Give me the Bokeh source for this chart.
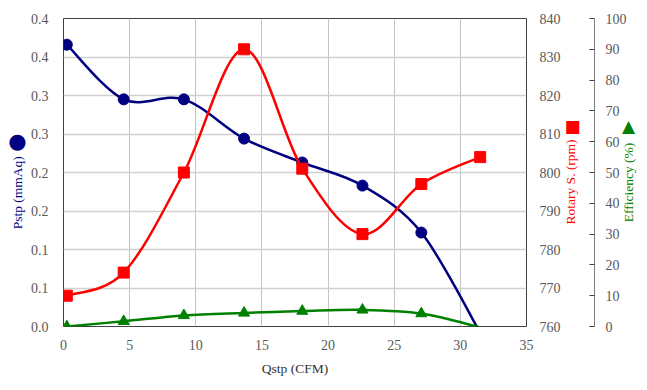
from bokeh.plotting import figure
from bokeh.layouts import row
from bokeh.models import LinearAxis, Range1d, FixedTicker, Label
from bokeh.embed import file_html
from bokeh.resources import INLINE

# ---------------- data ----------------
qstp = [0.25, 4.55, 9.1, 13.65, 18.05, 22.6, 27.05, 31.5]
pstp = [0.366, 0.295, 0.295, 0.244, 0.213, 0.183, 0.122, -0.008]
rpm = [768, 774, 800, 832, 801, 784, 797, 804]
eff = [0.0, 1.7, 3.6, 4.4, 5.0, 5.4, 4.2, -0.3]

x_ticks = [0, 5, 10, 15, 20, 25, 30, 35]
y_ticks = [0.0, 0.05, 0.1, 0.15, 0.2, 0.25, 0.3, 0.35, 0.4]
y_tick_labels = ["0.0", "0.1", "0.1", "0.2", "0.2", "0.3", "0.3", "0.4", "0.4"]
rpm_ticks = [760, 770, 780, 790, 800, 810, 820, 830, 840]
eff_ticks = [0, 10, 20, 30, 40, 50, 60, 70, 80, 90, 100]

x_title = "Qstp (CFM)"
pstp_title = "Pstp (mmAq)"
rpm_title = "Rotary S. (rpm)"
eff_title = "Efficiency (%)"

# ---------------- layout ----------------
H = 381
FL, FT, FW, FH = 63, 18, 463, 308
RB = 106                          # right border of the main figure (holds both right axes)
W = FL + FW + RB                  # main figure width
WS = 30                           # transparent strip laid over the right edge
OVERLAP = 17                      # how far the strip slides back over the main figure
ORIGIN = 1                        # page offset of the layout as seen in the picture
IMG_FB = 327                      # frame bottom as seen in the picture

FONT = "Liberation Serif"
SYM_FONT = "DejaVu Sans"
BLUE, RED, GREEN = "#000080", "#ff0000", "#008000"
TICK_COLOR = "#595959"
NB = "\u00a0"

p = figure(width=W, height=H, x_range=Range1d(0, 35), y_range=Range1d(0, 0.4),
           output_backend="svg", toolbar_location=None,
           min_border_left=FL, min_border_top=FT,
           min_border_right=RB, min_border_bottom=H - FT - FH)
p.extra_y_ranges = {"rpm": Range1d(760, 840), "eff": Range1d(0, 100)}
p.outline_line_color = "#404040"
p.outline_line_width = 1


def bare(ax, font=FONT, size="14px", color=TICK_COLOR, standoff=10):
    ax.major_label_text_font = font
    ax.major_label_text_font_size = size
    ax.major_label_text_color = color
    ax.major_label_standoff = standoff
    ax.axis_line_color = None
    ax.major_tick_line_color = None
    ax.minor_tick_line_color = None
    ax.major_tick_in = 0
    ax.major_tick_out = 0
    ax.minor_tick_in = 0
    ax.minor_tick_out = 0


# x axis
xa = p.xaxis[0]
xa.ticker = FixedTicker(ticks=x_ticks)
bare(xa, standoff=13)
xa.axis_label = x_title
xa.axis_label_text_font = FONT
xa.axis_label_text_font_size = "13.5px"
xa.axis_label_text_font_style = "normal"
xa.axis_label_text_color = "#333333"
xa.axis_label_standoff = 8

# left y axis, its title shifted down by trailing no-break spaces
ya = p.yaxis[0]
ya.ticker = FixedTicker(ticks=y_ticks)
ya.major_label_overrides = dict(zip(y_ticks, y_tick_labels))
bare(ya, standoff=15)
ya.axis_label = pstp_title + NB * 12
ya.axis_label_text_font = FONT
ya.axis_label_text_font_size = "13.5px"
ya.axis_label_text_font_style = "normal"
ya.axis_label_text_color = BLUE
ya.axis_label_standoff = 3

p.xgrid.ticker = FixedTicker(ticks=x_ticks)
p.ygrid.ticker = FixedTicker(ticks=y_ticks)
p.xgrid.grid_line_color = "#c4c4c4"
p.ygrid.grid_line_color = "#d0d0d0"
p.ygrid.grid_line_width = 1.5


def px_to(range_name, py):
    lo, hi = {"default": (0, 0.4), "rpm": (760, 840), "eff": (0, 100)}[range_name]
    return lo + (IMG_FB - py) / FH * (hi - lo)


def marker_axis(place, rng, py, text, color, standoff, font=FONT,
                size="13.5px", rotate=False):
    kw = {} if rng == "default" else {"y_range_name": rng}
    v = px_to(rng, py)
    ax = LinearAxis(ticker=FixedTicker(ticks=[v]), **kw)
    bare(ax, font=font, size=size, color=color, standoff=standoff)
    ax.major_label_overrides = {v: text}
    if rotate:
        ax.major_label_orientation = 1.5707963267948966
    p.add_layout(ax, place)
    return ax


# left: symbol beside the title
marker_axis("left", "default", 141, "●", BLUE, standoff=-20, font=SYM_FONT, size="21px")

# right: rpm axis with its title and symbol, then the efficiency axis
ra = LinearAxis(y_range_name="rpm", ticker=FixedTicker(ticks=rpm_ticks))
bare(ra, standoff=13)
p.add_layout(ra, "right")
marker_axis("right", "rpm", 225, rpm_title, RED, standoff=7, rotate=True)
marker_axis("right", "rpm", 126, "■" + NB * 2, RED, standoff=-24, font=SYM_FONT, size="17px")

ea = LinearAxis(y_range_name="eff", ticker=FixedTicker(ticks=eff_ticks))
bare(ea, standoff=11)
ea.axis_line_color = "#808080"
ea.major_tick_line_color = "#404040"
ea.major_tick_in = 5
p.add_layout(ea, "right")


# ---------------- smooth curves (Excel-like bezier) ----------------
def bez(xs, ys):
    n = len(xs)
    out = dict(x0=[], y0=[], x1=[], y1=[], cx0=[], cy0=[], cx1=[], cy1=[])
    for i in range(n - 1):
        a = max(i - 1, 0)
        d = min(i + 2, n - 1)
        out["x0"].append(xs[i]); out["y0"].append(ys[i])
        out["x1"].append(xs[i + 1]); out["y1"].append(ys[i + 1])
        out["cx0"].append(xs[i] + (xs[i + 1] - xs[a]) / 6)
        out["cy0"].append(ys[i] + (ys[i + 1] - ys[a]) / 6)
        out["cx1"].append(xs[i + 1] - (xs[d] - xs[i]) / 6)
        out["cy1"].append(ys[i + 1] - (ys[d] - ys[i]) / 6)
    return out


def nonneg(xs, ys):
    return [x for x, y in zip(xs, ys) if y >= 0], [y for y in ys if y >= 0]


p.bezier(**bez(qstp, pstp), line_color=BLUE, line_width=2.5)
bx, by = nonneg(qstp, pstp)
p.scatter(bx, by, marker="circle", size=11, fill_color=BLUE, line_color=BLUE)

p.bezier(**bez(qstp, rpm), line_color=RED, line_width=2.5, y_range_name="rpm")
p.scatter(qstp, rpm, marker="square", size=11, fill_color=RED, line_color=RED,
          y_range_name="rpm")

p.bezier(**bez(qstp, eff), line_color=GREEN, line_width=2.5, y_range_name="eff")
gx, gy = nonneg(qstp, eff)
p.scatter(gx, gy, marker="triangle", size=11, fill_color=GREEN, line_color=GREEN,
          y_range_name="eff")

# ---------------- transparent strip over the right edge: efficiency title ----------------
# same vertical frame as the main figure, so the eff range maps identically
s = figure(width=WS, height=H, x_range=Range1d(0, WS), y_range=Range1d(0, 100),
           output_backend="svg", toolbar_location=None,
           x_axis_type=None, y_axis_type=None,
           min_border_left=0, min_border_right=0,
           min_border_top=FT, min_border_bottom=H - FT - FH)
s.outline_line_color = None
s.grid.visible = False
s.background_fill_color = None
s.border_fill_color = None
s.margin = (0, 0, 0, -OVERLAP)
s.styles = {"margin-left": f"-{OVERLAP}px", "background": "transparent"}
SX0 = ORIGIN + W - OVERLAP        # picture x of the strip's left edge


def strip_label(px, py, text, color, size, font, angle=0.0):
    s.add_layout(Label(x=px - SX0, y=px_to("eff", py), text=text, angle=angle,
                       text_align="center", text_baseline="middle",
                       text_font=font, text_font_size=size, text_color=color))


strip_label(629, 183, eff_title, GREEN, "13.5px", FONT, angle=1.5707963267948966)
strip_label(629, 126, "▲", GREEN, "17px", SYM_FONT)

layout = row(p, s)
open("out.html", "w").write(file_html(layout, INLINE))
